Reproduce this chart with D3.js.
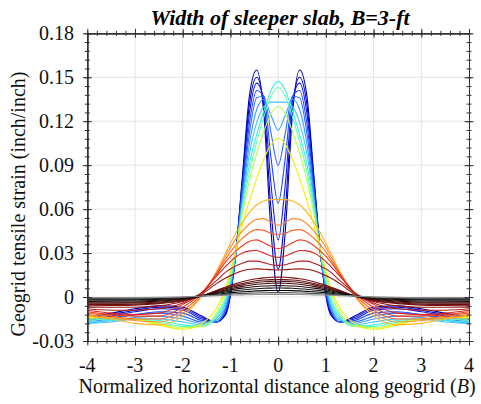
<!DOCTYPE html>
<html><head><meta charset="utf-8">
<script src="https://cdn.jsdelivr.net/npm/d3@7"></script>
<style>body{margin:0;background:#fff}</style>
</head><body><svg id="c" width="481" height="404"></svg>
<script>
// Horizontal positions (normalized by B) at which each curve was read
const xPos = [-4,-3.5,-3,-2.5,-2,-1.6,-1.3,-1.1,-0.9,-0.75,-0.6,-0.45,-0.3,-0.15,0,0.15,0.3,0.45,0.6,0.75,0.9,1.1,1.3,1.6,2,2.5,3,3.5,4];

// Geogrid tensile strain curves (inch/inch), one array per curve
const s01 = [-0.014,-0.011,-0.008,-0.006,-0.007,-0.013,-0.017,-0.012,0.026,0.082,0.138,0.155,0.125,0.045,0.003,0.045,0.125,0.155,0.138,0.082,0.026,-0.012,-0.017,-0.013,-0.007,-0.006,-0.008,-0.011,-0.014];
const s02 = [-0.015,-0.012,-0.009,-0.007,-0.008,-0.014,-0.017,-0.011,0.026,0.080,0.132,0.150,0.130,0.060,0.019,0.060,0.130,0.150,0.132,0.080,0.026,-0.011,-0.017,-0.014,-0.008,-0.007,-0.009,-0.012,-0.015];
const s03 = [-0.015,-0.013,-0.010,-0.008,-0.009,-0.015,-0.017,-0.010,0.026,0.077,0.126,0.146,0.134,0.077,0.039,0.077,0.134,0.146,0.126,0.077,0.026,-0.010,-0.017,-0.015,-0.009,-0.008,-0.010,-0.013,-0.015];
const s04 = [-0.016,-0.014,-0.012,-0.010,-0.011,-0.016,-0.017,-0.009,0.026,0.074,0.119,0.141,0.137,0.095,0.064,0.095,0.137,0.141,0.119,0.074,0.026,-0.009,-0.017,-0.016,-0.011,-0.010,-0.012,-0.014,-0.016];
const s05 = [-0.017,-0.015,-0.012,-0.011,-0.013,-0.017,-0.017,-0.008,0.026,0.071,0.112,0.136,0.137,0.112,0.090,0.112,0.137,0.136,0.112,0.071,0.026,-0.008,-0.017,-0.017,-0.013,-0.011,-0.012,-0.015,-0.017];
const s06 = [-0.018,-0.016,-0.014,-0.013,-0.015,-0.018,-0.016,-0.006,0.026,0.067,0.105,0.128,0.135,0.124,0.114,0.124,0.135,0.128,0.105,0.067,0.026,-0.006,-0.016,-0.018,-0.015,-0.013,-0.014,-0.016,-0.018];
const s07 = [-0.018,-0.017,-0.015,-0.015,-0.017,-0.019,-0.015,-0.004,0.027,0.065,0.098,0.119,0.130,0.133,0.133,0.133,0.130,0.119,0.098,0.065,0.027,-0.004,-0.015,-0.019,-0.017,-0.015,-0.015,-0.017,-0.018];
const s08 = [-0.017,-0.016,-0.015,-0.016,-0.019,-0.020,-0.014,-0.002,0.028,0.062,0.091,0.111,0.127,0.141,0.147,0.141,0.127,0.111,0.091,0.062,0.028,-0.002,-0.014,-0.020,-0.019,-0.016,-0.015,-0.016,-0.017];
const s09 = [-0.016,-0.015,-0.015,-0.017,-0.020,-0.020,-0.013,0.000,0.029,0.060,0.086,0.106,0.123,0.137,0.143,0.137,0.123,0.106,0.086,0.060,0.029,0.000,-0.013,-0.020,-0.020,-0.017,-0.015,-0.015,-0.016];
const s10 = [-0.015,-0.014,-0.015,-0.018,-0.021,-0.020,-0.011,0.003,0.030,0.057,0.080,0.098,0.113,0.125,0.130,0.125,0.113,0.098,0.080,0.057,0.030,0.003,-0.011,-0.020,-0.021,-0.018,-0.015,-0.014,-0.015];
const s11 = [-0.014,-0.014,-0.015,-0.019,-0.022,-0.018,-0.008,0.006,0.030,0.049,0.066,0.081,0.094,0.104,0.1085,0.104,0.094,0.081,0.066,0.049,0.030,0.006,-0.008,-0.018,-0.022,-0.019,-0.015,-0.014,-0.014];
const s12 = [-0.013,-0.015,-0.018,-0.019,-0.013,0.001,0.017,0.030,0.043,0.051,0.058,0.063,0.0655,0.0665,0.0665,0.0665,0.0655,0.063,0.058,0.051,0.043,0.030,0.017,0.001,-0.013,-0.019,-0.018,-0.015,-0.013];
const s13 = [-0.012,-0.014,-0.016,-0.017,-0.011,0.001,0.016,0.028,0.039,0.045,0.050,0.053,0.0535,0.051,0.049,0.051,0.0535,0.053,0.050,0.045,0.039,0.028,0.016,0.001,-0.011,-0.017,-0.016,-0.014,-0.012];
const s14 = [-0.011,-0.013,-0.015,-0.015,-0.009,0.002,0.016,0.026,0.035,0.040,0.044,0.046,0.0455,0.0435,0.0425,0.0435,0.0455,0.046,0.044,0.040,0.035,0.026,0.016,0.002,-0.009,-0.015,-0.015,-0.013,-0.011];
const s15 = [-0.010,-0.012,-0.013,-0.013,-0.007,0.003,0.015,0.024,0.031,0.035,0.038,0.039,0.037,0.0345,0.033,0.0345,0.037,0.039,0.038,0.035,0.031,0.024,0.015,0.003,-0.007,-0.013,-0.013,-0.012,-0.010];
const s16 = [-0.009,-0.011,-0.012,-0.011,-0.005,0.003,0.014,0.021,0.027,0.030,0.0315,0.0318,0.030,0.028,0.027,0.028,0.030,0.0318,0.0315,0.030,0.027,0.021,0.014,0.003,-0.005,-0.011,-0.012,-0.011,-0.009];
const s17 = [-0.008,-0.009,-0.009,-0.008,-0.004,0.003,0.011,0.017,0.021,0.023,0.0245,0.0245,0.0235,0.022,0.0216,0.022,0.0235,0.0245,0.0245,0.023,0.021,0.017,0.011,0.003,-0.004,-0.008,-0.009,-0.009,-0.008];
const s18 = [-0.007,-0.007,-0.007,-0.006,-0.003,0.002,0.009,0.013,0.016,0.018,0.019,0.0192,0.019,0.0187,0.0185,0.0187,0.019,0.0192,0.019,0.018,0.016,0.013,0.009,0.002,-0.003,-0.006,-0.007,-0.007,-0.007];
const s19 = [-0.006,-0.0058,-0.0055,-0.0045,-0.0025,0.0008,0.0045,0.0068,0.009,0.0104,0.0116,0.0125,0.0131,0.0135,0.0136,0.0135,0.0131,0.0125,0.0116,0.0104,0.009,0.0068,0.0045,0.0008,-0.0025,-0.0045,-0.0055,-0.0058,-0.006];
const s20 = [-0.005,-0.005,-0.0048,-0.004,-0.0022,0.0008,0.0041,0.0062,0.0081,0.0093,0.0103,0.0111,0.0116,0.0119,0.012,0.0119,0.0116,0.0111,0.0103,0.0093,0.0081,0.0062,0.0041,0.0008,-0.0022,-0.004,-0.0048,-0.005,-0.005];
const s21 = [-0.0042,-0.0042,-0.004,-0.0034,-0.0018,0.0008,0.0037,0.0056,0.0072,0.0083,0.0092,0.0099,0.0104,0.0107,0.0108,0.0107,0.0104,0.0099,0.0092,0.0083,0.0072,0.0056,0.0037,0.0008,-0.0018,-0.0034,-0.004,-0.0042,-0.0042];
const s22 = [-0.0036,-0.0036,-0.0034,-0.0028,-0.0014,0.0008,0.0033,0.005,0.0064,0.0073,0.0081,0.0087,0.0091,0.0094,0.0095,0.0094,0.0091,0.0087,0.0081,0.0073,0.0064,0.005,0.0033,0.0008,-0.0014,-0.0028,-0.0034,-0.0036,-0.0036];
const s23 = [-0.003,-0.0029,-0.0027,-0.0022,-0.001,0.0008,0.0029,0.0042,0.0054,0.0061,0.0067,0.0072,0.0075,0.0077,0.0078,0.0077,0.0075,0.0072,0.0067,0.0061,0.0054,0.0042,0.0029,0.0008,-0.001,-0.0022,-0.0027,-0.0029,-0.003];
const s24 = [-0.0022,-0.0022,-0.002,-0.0016,-0.0007,0.0008,0.0024,0.0034,0.0043,0.0048,0.0053,0.0057,0.006,0.0061,0.0062,0.0061,0.006,0.0057,0.0053,0.0048,0.0043,0.0034,0.0024,0.0008,-0.0007,-0.0016,-0.002,-0.0022,-0.0022];
const s25 = [-0.0015,-0.0015,-0.0014,-0.0011,-0.0004,0.0008,0.0019,0.0026,0.0032,0.0036,0.0039,0.0042,0.0044,0.0045,0.0045,0.0045,0.0044,0.0042,0.0039,0.0036,0.0032,0.0026,0.0019,0.0008,-0.0004,-0.0011,-0.0014,-0.0015,-0.0015];
const s26 = [-0.0009,-0.0009,-0.0008,-0.0006,-0.0002,0.0007,0.0014,0.0018,0.0022,0.0025,0.0027,0.0028,0.0029,0.003,0.003,0.003,0.0029,0.0028,0.0027,0.0025,0.0022,0.0018,0.0014,0.0007,-0.0002,-0.0006,-0.0008,-0.0009,-0.0009];
const s27 = [-0.0003,-0.0003,-0.0003,-0.0002,0.0001,0.0006,0.001,0.0012,0.0014,0.0015,0.0016,0.0017,0.0018,0.0018,0.0018,0.0018,0.0018,0.0017,0.0016,0.0015,0.0014,0.0012,0.001,0.0006,0.0001,-0.0002,-0.0003,-0.0003,-0.0003];

const seriesValues = [s01,s02,s03,s04,s05,s06,s07,s08,s09,s10,s11,s12,s13,s14,s15,s16,s17,s18,s19,s20,s21,s22,s23,s24,s25,s26,s27];
const seriesColors = ["#0000a8","#0000d0","#0a1ef0","#1e46ff","#2d6eff","#3c9bff","#46c3ff","#3cf0e6","#64ffaa","#b4ff50","#f0f000","#ffb41e","#ff8c32","#ff6428","#f03c1e","#d72823","#b41e1e","#961414","#7d1010","#641010","#501010","#3c0c0c","#280808","#141414","#000000","#505050","#8c8c8c"];

const xTicks = [-4,-3,-2,-1,0,1,2,3,4];
const xTickLabels = ["-4","-3","-2","-1","0","1","2","3","4"];
const yTicks = [-0.03,0,0.03,0.06,0.09,0.12,0.15,0.18];
const yTickLabels = ["-0.03","0","0.03","0.06","0.09","0.12","0.15","0.18"];
const titleText = "Width of sleeper slab, B=3-ft";
const xLabel = "Normalized horizontal distance along geogrid (";
const yLabel = "Geogrid tensile strain (inch/inch)";

const svg = d3.select("#c");
const FONT = "Liberation Serif";
const L = 87.3, R = 469, T = 33.3, B = 341;
const x = d3.scaleLinear().domain([-4,4]).range([L,R]);
const y = d3.scaleLinear().domain([-0.03,0.18]).range([B,T]);

// grid
const grid = svg.append("g").attr("stroke","#e4e4e4").attr("stroke-width",1);
grid.selectAll(".gx").data(xTicks.slice(1,-1)).enter().append("line")
  .attr("x1",d=>x(d)).attr("x2",d=>x(d)).attr("y1",T).attr("y2",B);
grid.selectAll(".gy").data(yTicks.slice(1,-1)).enter().append("line")
  .attr("y1",d=>y(d)).attr("y2",d=>y(d)).attr("x1",L).attr("x2",R);

// curves
svg.append("clipPath").attr("id","clip").append("rect").attr("x",L).attr("y",T).attr("width",R-L).attr("height",B-T);
const line = d3.line().x((d,i)=>x(xPos[i])).y(d=>y(d)).curve(d3.curveMonotoneX);
svg.append("g").attr("clip-path","url(#clip)").selectAll("path").data(seriesValues).enter().append("path")
  .attr("d",d=>line(d)).attr("fill","none").attr("stroke",(d,i)=>seriesColors[i]).attr("stroke-width",1.1);

// axes with crossing ticks
const xMinor = d3.range(-4,4.0001,0.2).map(v=>Math.round(v*10)/10);
const yMinor = d3.range(-0.03,0.18001,0.006).map(v=>Math.round(v*1000)/1000);
function ax(gen, scale, vals, size, tx, ty){
  const a = gen(scale).tickValues(vals).tickSize(size).tickSizeOuter(0).tickFormat("");
  const g = svg.append("g").attr("transform",`translate(${tx},${ty})`).call(a);
  g.selectAll("line,path").attr("stroke","#333").attr("stroke-width",1);
  return g;
}
[[d3.axisBottom,B],[d3.axisTop,B],[d3.axisBottom,T],[d3.axisTop,T]].forEach(([g,ty])=>{
  ax(g,x,xMinor,2.5,0,ty); ax(g,x,xTicks,4.5,0,ty);
});
[[d3.axisLeft,L],[d3.axisRight,L],[d3.axisLeft,R],[d3.axisRight,R]].forEach(([g,tx])=>{
  ax(g,y,yMinor,2.5,tx,0); ax(g,y,yTicks,4.5,tx,0);
});

// tick labels
svg.append("g").selectAll("text").data(xTicks).enter().append("text")
  .attr("x",d=>x(d)).attr("y",372).attr("text-anchor","middle")
  .style("font-family",FONT).style("font-size","20px").attr("fill","#111").text((d,i)=>xTickLabels[i]);
svg.append("g").selectAll("text").data(yTicks).enter().append("text")
  .attr("x",74).attr("y",d=>y(d)+6.5).attr("text-anchor","end")
  .style("font-family",FONT).style("font-size","20px").attr("fill","#111").text((d,i)=>yTickLabels[i]);

// labels
const xl = svg.append("text").attr("x",277).attr("y",393).attr("text-anchor","middle")
  .style("font-family",FONT).style("font-size","20px").attr("fill","#111");
xl.append("tspan").text(xLabel);
xl.append("tspan").style("font-style","italic").text("B");
xl.append("tspan").text(")");
svg.append("text").attr("transform","translate(25,204) rotate(-90)").attr("text-anchor","middle")
  .style("font-family",FONT).style("font-size","20px").attr("fill","#111").text(yLabel);
svg.append("text").attr("x",280).attr("y",25).attr("text-anchor","middle")
  .style("font-family",FONT).style("font-size","22px").style("font-weight","bold").style("font-style","italic")
  .attr("fill","#000").text(titleText);
</script></body></html>
